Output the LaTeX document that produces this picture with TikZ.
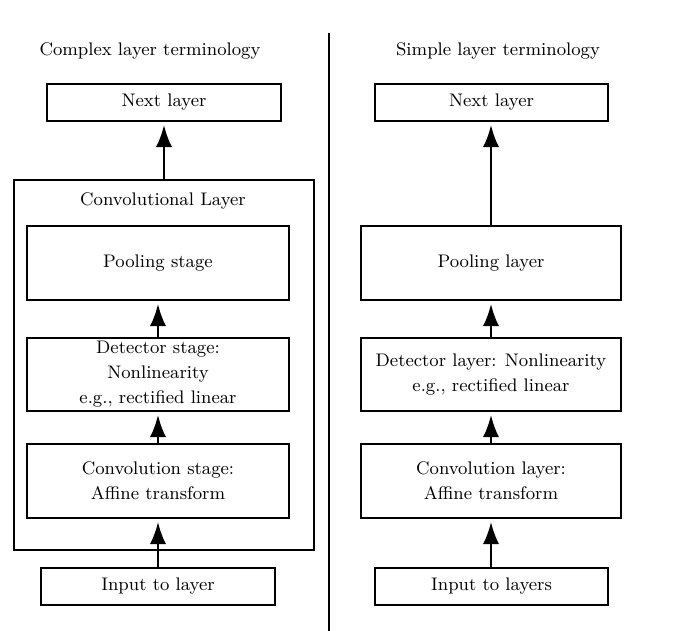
\documentclass[tikz,border=0pt]{standalone}
\usepackage{tikz}
\usetikzlibrary{arrows.meta}

\begin{document}
\begin{tikzpicture}[x=0.5pt, y=-0.5pt,
    every node/.style={font=\fontsize{9.1}{12.5}\selectfont, align=center, inner sep=0pt},
    box/.style={draw, line width=1pt, minimum width=131pt, minimum height=37pt},
    smallbox/.style={draw, line width=1pt, minimum width=117pt, minimum height=18.5pt},
    arr/.style={line width=1pt, -{Latex[length=11pt, width=8pt]}, shorten >=1.5pt}]
    \useasboundingbox (0,0) rectangle (690,631);

    % left: complex layer terminology
    \node (titleL) at (150,51) {Complex layer terminology};
    \node[smallbox] (nextL) at (164,102.5) {Next layer};
    \node[draw, line width=1pt, minimum width=150pt, minimum height=185pt] (convL) at (164,365) {};
    \node (convLtitle) at (163,201) {Convolutional Layer};
    \node[box] (poolL) at (158,263) {Pooling stage};
    \node[box, minimum height=36.5pt] (detL) at (158,374.5) {Detector stage:\\Nonlinearity\\e.g., rectified linear};
    \node[box] (cvL) at (158,481) {Convolution stage:\\Affine transform};
    \node[smallbox] (inL) at (158,586.5) {Input to layer};

    \draw[arr] (convL.north -| nextL) -- (nextL.south);
    \draw[arr] (detL.north) -- (poolL.south);
    \draw[arr] (cvL.north) -- (detL.south);
    \draw[arr] (inL.north) -- (cvL.south);

    % divider
    \coordinate (divtop) at (329,33);
    \coordinate (divbot) at (329,631);
    \draw[line width=1pt] (divtop) -- (divbot);

    % right: simple layer terminology
    \node (titleR) at (498,51) {Simple layer terminology};
    \node[smallbox, minimum width=116.5pt] (nextR) at (491.5,102.5) {Next layer};
    \node[box, minimum width=130pt] (poolR) at (491,263) {Pooling layer};
    \node[box, minimum width=130pt, minimum height=36.5pt] (detR) at (491,374.5) {Detector layer: Nonlinearity\\e.g., rectified linear};
    \node[box, minimum width=130pt] (cvR) at (491,481) {Convolution layer:\\Affine transform};
    \node[smallbox, minimum width=116.5pt] (inR) at (491.5,586.5) {Input to layers};

    \draw[arr] (poolR.north) -- (poolR.north |- nextR.south);
    \draw[arr] (detR.north) -- (poolR.south);
    \draw[arr] (cvR.north) -- (detR.south);
    \draw[arr] (inR.north -| cvR) -- (cvR.south);
\end{tikzpicture}
\end{document}
